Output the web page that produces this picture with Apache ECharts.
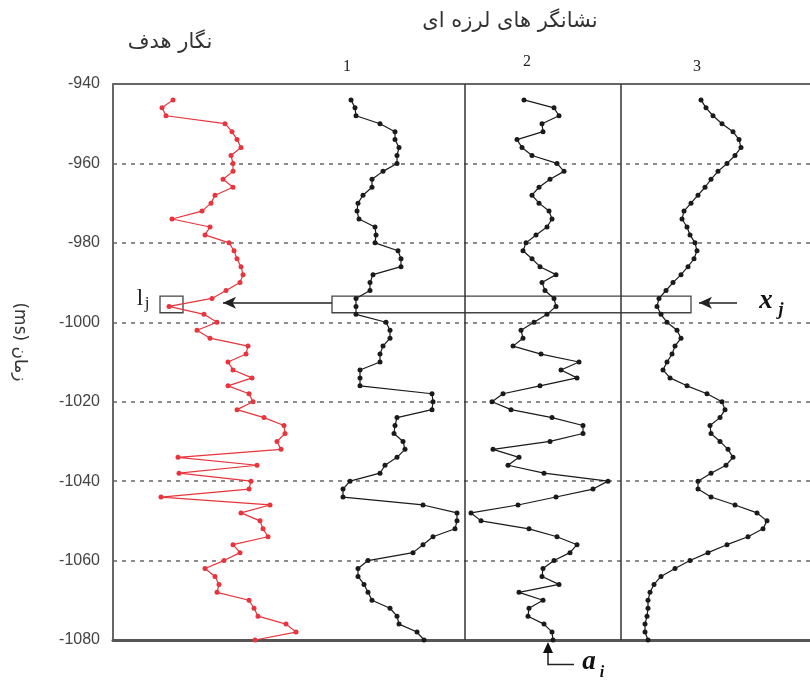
<!DOCTYPE html>
<html><head><meta charset="utf-8">
<script src="https://cdn.jsdelivr.net/npm/echarts@6/dist/echarts.min.js"></script>
<style>html,body{margin:0;padding:0;background:#fff}#c{width:810px;height:680px}</style>
</head><body><div id="c"></div>
<script>
// Sample times (ms)
const times = [-944,-946,-948,-950,-952,-954,-956,-958,-960,-962,-964,-966,-968,-970,-972,-974,-976,-978,-980,-982,-984,-986,-988,-990,-992,-994,-996,-998,-1000,-1002,-1004,-1006,-1008,-1010,-1012,-1014,-1016,-1018,-1020,-1022,-1024,-1026,-1028,-1030,-1032,-1034,-1036,-1038,-1040,-1042,-1044,-1046,-1048,-1050,-1052,-1054,-1056,-1058,-1060,-1062,-1064,-1066,-1068,-1070,-1072,-1074,-1076,-1078,-1080];
// Track amplitudes (shared horizontal display axis units)
const targetLog = [60,49,53,112,119,124,128,118,120,120,110,120,102,98,89,59,97,92,116,121,124,128,130,127,113,99,56,91,104,84,97,135,133,115,120,139,115,136,140,124,151,171,172,164,168,65,144,66,138,136,48,157,128,147,150,155,120,127,111,92,102,106,104,136,141,145,173,183,142];
const attr1 = [238,242,243,267,282,282,286,284,284,270,259,259,250,245,244,246,262,263,262,285,288,288,260,257,257,243,243,243,273,277,277,270,267,267,247,247,247,319,320,319,284,282,281,290,292,284,272,267,237,230,230,310,344,344,342,320,310,300,255,245,245,251,255,259,277,284,286,304,311];
const attr2 = [411,441,446,429,430,404,409,419,444,451,437,426,419,426,436,439,434,423,413,410,419,427,443,429,432,441,443,434,421,408,410,400,428,466,448,464,427,390,379,398,439,470,470,437,380,406,395,431,495,480,443,405,358,368,416,444,464,457,441,430,429,446,406,430,416,415,431,439,440];
const attr3 = [588,593,600,609,620,626,628,622,614,605,598,592,585,578,571,569,574,577,582,584,581,575,568,560,553,546,544,548,554,564,568,562,559,554,550,557,574,594,609,612,607,597,598,607,615,620,613,598,585,585,598,622,644,654,650,635,614,595,577,562,548,541,537,535,535,534,532,532,535];
const trackNames = ['1','2','3'];
const trackNameX = [234,414,584];
const boxEdges = [352,508];
const windowTop = -993.4, windowBottom = -997.6, windowY = -995.1;

function pairs(vals){ return vals.map((v,i)=>[v,times[i]]); }

const chart = echarts.init(document.getElementById('c'), null, {renderer:'canvas'});
function lineSeries(name, vals, color, extra){
  return Object.assign({
    name, type:'line', data:pairs(vals), symbol:'circle', symbolSize:5,
    showSymbol:true, animation:false, clip:false,
    lineStyle:{color, width:1.2}, itemStyle:{color, borderWidth:0}
  }, extra||{});
}
const option = {
  animation:false,
  backgroundColor:'#fff',
  grid:{left:113, right:0, top:84, bottom:40},
  xAxis:[
    {type:'value', min:0, max:697, position:'bottom', axisLine:{show:true, onZero:false, lineStyle:{color:'#555', width:3}}, axisTick:{show:false}, axisLabel:{show:false}, splitLine:{show:false}},
    {type:'value', min:0, max:697, position:'top', axisLine:{show:true, onZero:false, lineStyle:{color:'#666', width:2}}, axisTick:{show:false}, axisLabel:{show:false}, splitLine:{show:false}}
  ],
  yAxis:{type:'value', min:-1080, max:-940, interval:20,
    axisLine:{show:true, lineStyle:{color:'#666', width:2}}, axisTick:{show:false},
    axisLabel:{color:'#444', fontSize:16, fontFamily:'Liberation Sans, Arial', margin:13, formatter:v=>String(v)},
    splitLine:{show:true, lineStyle:{color:'#666', type:[4,5], width:1.5}}
  },
  series:[
    lineSeries('target', targetLog, '#e8343c', {
      markArea:{silent:true, itemStyle:{color:'rgba(0,0,0,0)', borderColor:'#444', borderWidth:1.3},
        data:[[{coord:[47,windowTop]},{coord:[70,windowBottom]}],[{coord:[219,windowTop]},{coord:[578,windowBottom]}]]}
    }),
    lineSeries('attr1', attr1, '#1a1a1a', {
      markLine:{silent:true, symbol:['none','arrow'], symbolSize:[9,13], label:{show:false},
        lineStyle:{color:'#222', width:1.5, type:'solid'},
        data:[[{coord:[219,windowY]},{coord:[110,windowY]}],[{coord:[624,windowY]},{coord:[586,windowY]}]]}
    }),
    lineSeries('attr2', attr2, '#1a1a1a', {
      markLine:{silent:true, symbol:['none','none'], label:{show:false},
        lineStyle:{color:'#333', width:1.5, type:'solid'},
        data:boxEdges.map(v=>({xAxis:v}))}
    }),
    lineSeries('attr3', attr3, '#1a1a1a')
  ]
};
chart.setOption(option);

const P = (x,y)=>chart.convertToPixel({xAxisIndex:0,yAxisIndex:0},[x,y]);
const g = [];
// titles
g.push({type:'text', x:510, y:22, style:{text:'نشانگر های لرزه ای', font:'21px "DejaVu Sans"', fill:'#333', align:'center', verticalAlign:'middle'}});
g.push({type:'text', x:170, y:43, style:{text:'نگار هدف', font:'21px "DejaVu Sans"', fill:'#333', align:'center', verticalAlign:'middle'}});
trackNames.forEach((t,i)=>{
  const p = P(trackNameX[i], -940);
  g.push({type:'text', x:p[0], y:i===1?62:67, style:{text:t, font:'16px "Liberation Serif"', fill:'#222', align:'center', verticalAlign:'middle'}});
});
// y axis name
g.push({type:'text', x:19, y:342, rotation:-Math.PI/2, style:{text:'(ms) زمان', font:'17px "DejaVu Sans"', fill:'#333', align:'center', verticalAlign:'middle'}});
// labels lj, xj
const pl = P(27, windowY);
g.push({type:'text', x:pl[0], y:pl[1]-4, style:{text:'l', font:'23px "Liberation Serif"', fill:'#222', align:'center', verticalAlign:'middle'}});
g.push({type:'text', x:pl[0]+7, y:pl[1]+1, style:{text:'j', font:'17px "Liberation Serif"', fill:'#222', align:'center', verticalAlign:'middle'}});
const px = P(653, windowY);
g.push({type:'text', x:px[0], y:px[1]-2, style:{text:'x', font:'bold italic 27px "Liberation Serif"', fill:'#111', align:'center', verticalAlign:'middle'}});
g.push({type:'text', x:px[0]+15, y:px[1]+8, style:{text:'j', font:'bold italic 18px "Liberation Serif"', fill:'#111', align:'center', verticalAlign:'middle'}});
// a_i arrow (below axis)
const a0 = P(461,-1086.2), a1 = P(435,-1086.2), a2 = P(435,-1081);
g.push({type:'polyline', shape:{points:[a0,a1,a2]}, style:{stroke:'#222', lineWidth:1.5, fill:null}});
g.push({type:'polygon', shape:{points:[[a2[0]-5,a2[1]+9],[a2[0]+5,a2[1]+9],[a2[0],a2[1]-2]]}, style:{fill:'#111'}});
g.push({type:'text', x:a0[0]+15, y:a0[1]-3, style:{text:'a', font:'bold italic 27px "Liberation Serif"', fill:'#111', align:'center', verticalAlign:'middle'}});
g.push({type:'text', x:a0[0]+28, y:a0[1]+8, style:{text:'i', font:'bold italic 16px "Liberation Serif"', fill:'#111', align:'center', verticalAlign:'middle'}});
chart.setOption({graphic:g});
</script></body></html>
